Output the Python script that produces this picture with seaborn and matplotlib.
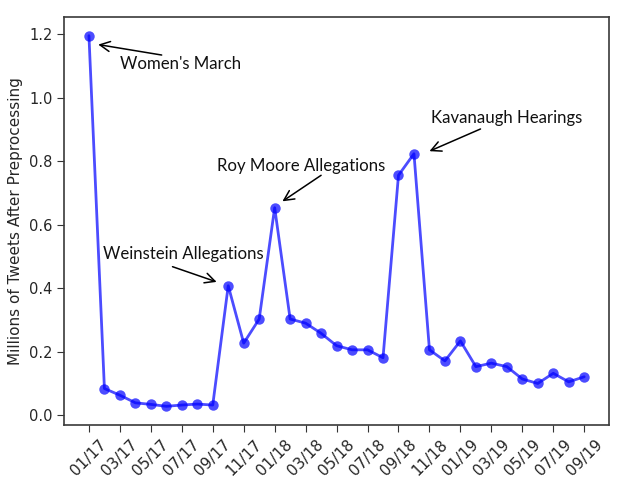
import matplotlib
matplotlib.use("Agg")
import matplotlib.pyplot as plt
import seaborn as sns
import pandas as pd

months = ["01/17", "02/17", "03/17", "04/17", "05/17", "06/17", "07/17", "08/17", "09/17",
          "10/17", "11/17", "12/17", "01/18", "02/18", "03/18", "04/18", "05/18", "06/18",
          "07/18", "08/18", "09/18", "10/18", "11/18", "12/18", "01/19", "02/19", "03/19",
          "04/19", "05/19", "06/19", "07/19", "08/19", "09/19"]
tweets = [1.196, 0.084, 0.063, 0.039, 0.034, 0.028, 0.032, 0.035, 0.032,
          0.408, 0.227, 0.303, 0.654, 0.303, 0.290, 0.258, 0.219, 0.206,
          0.206, 0.181, 0.756, 0.824, 0.206, 0.171, 0.234, 0.153, 0.164,
          0.153, 0.114, 0.100, 0.132, 0.105, 0.121]
tick_labels = months[::2]

events = ["Women's March", "Weinstein Allegations", "Roy Moore Allegations", "Kavanaugh Hearings"]
event_idx = [0, 9, 12, 21]

df = pd.DataFrame({"idx": range(len(months)), "month": months, "tweets": tweets})

sns.set_style("ticks")
plt.rcParams["font.family"] = ["DejaVu Sans"]

fig, ax = plt.subplots(figsize=(6.23, 4.90), dpi=100)
fig.subplots_adjust(left=0.103, right=0.9775, top=0.965, bottom=0.133)

sns.lineplot(data=df, x="idx", y="tweets", ax=ax, color="blue", alpha=0.7,
             marker="o", markersize=7.5, markeredgewidth=0, linewidth=2)

ax.set_xticks(range(0, len(months), 2))
ax.set_xticklabels(tick_labels, rotation=45, fontsize=11)
ax.tick_params(axis="y", labelsize=10.5)
ax.set_xlabel("")
ax.set_ylabel("Millions of Tweets After Preprocessing", fontsize=11)
ax.set_yticks([0.0, 0.2, 0.4, 0.6, 0.8, 1.0, 1.2])
ax.set_yticklabels(["0.0", "0.2", "0.4", "0.6", "0.8", "1.0", "1.2"])
for s in ax.spines.values():
    s.set_color("#3a3a3a")
    s.set_linewidth(1.2)
ax.tick_params(color="#333333", length=5)

# annotation text positions (data coords) and arrow tail/head positions
text_pos = [(2.0, 1.108), (0.9, 0.507), (8.3, 0.786), (22.1, 0.938)]
arrow_tail = [(4.7, 1.135), (5.4, 0.468), (15.0, 0.756), (25.3, 0.902)]
arrow_head = [(0.6, 1.168), (8.25, 0.420), (12.5, 0.674), (22.0, 0.832)]
afont = ["Lato", "DejaVu Sans"]
for name, i, tp, tl, hd in zip(events, event_idx, text_pos, arrow_tail, arrow_head):
    ax.text(tp[0], tp[1], name, fontsize=12.1, family=afont, va="center", ha="left",
            color="#111111")
    ax.annotate("", xy=hd, xytext=tl,
                arrowprops=dict(arrowstyle="->", color="black", lw=1.1,
                                mutation_scale=18, shrinkA=0, shrinkB=0))

fig.savefig("out.png", dpi=100)
